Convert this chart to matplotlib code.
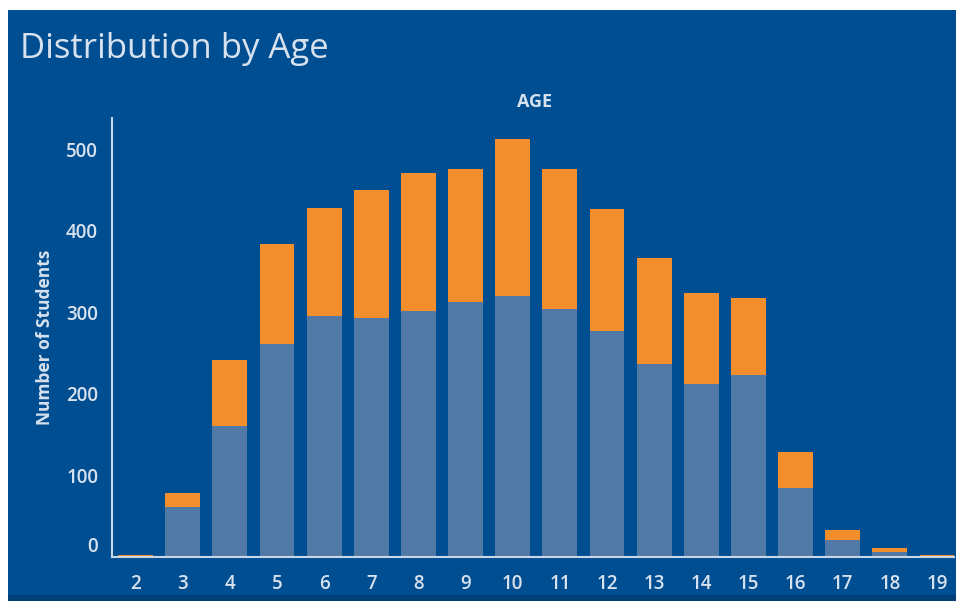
import matplotlib
matplotlib.use("Agg")
import matplotlib.pyplot as plt
import matplotlib.transforms as mtransforms
from matplotlib.patches import Rectangle

plt.rcParams['font.family'] = ['Open Sans', 'DejaVu Sans']

# data
ages = [2, 3, 4, 5, 6, 7, 8, 9, 10, 11, 12, 13, 14, 15, 16, 17, 18, 19]
blue_part = [0, 61, 160, 261, 295, 293, 301, 313, 320, 304, 277, 237, 212, 223, 85, 21, 6, 0]
orange_part = [2, 18, 81, 123, 133, 157, 169, 163, 192, 172, 149, 130, 112, 94, 44, 12, 5, 2]
y_ticks = [0, 100, 200, 300, 400, 500]

bg = "#004e92"
bar_blue = "#5179a6"
bar_orange = "#f28e2b"
txt = "#d8e2ee"

W, H = 956, 601
fig = plt.figure(figsize=(W / 100, H / 100), dpi=100)
fig.patch.set_facecolor("white")
back = Rectangle((8 / W, 0), 1 - 8 / W, 1 - 10 / H, transform=fig.transFigure,
                 facecolor=bg, edgecolor="none", zorder=-10)
fig.add_artist(back)
edge = Rectangle((8 / W, 0), 1 - 8 / W, 6 / H, transform=fig.transFigure,
                 facecolor="#003f78", edgecolor="none", zorder=-9)
fig.add_artist(edge)

ax = fig.add_axes([112 / W, 1 - 557 / H, (954 - 112) / W, (557 - 118) / H])
ax.set_facecolor("none")
ax.bar(ages, blue_part, width=0.74, color=bar_blue, zorder=2)
ax.bar(ages, orange_part, width=0.74, bottom=blue_part, color=bar_orange, zorder=2)

ax.set_xlim(1.5, 19.36)
ax.set_ylim(0, 538)
ax.set_xticks(ages)
ax.set_yticks(y_ticks)
ax.tick_params(axis="both", length=0, colors=txt, labelsize=13.5)
ax.tick_params(axis="x", pad=12)
ax.tick_params(axis="y", pad=10)
for lbl in ax.get_xticklabels() + ax.get_yticklabels():
    lbl.set_fontweight("semibold")
for s in ["top", "right"]:
    ax.spines[s].set_visible(False)
for s in ["left", "bottom"]:
    ax.spines[s].set_color("#c9d6e6")
    ax.spines[s].set_linewidth(1.5)

# the 0 label sits a bit above the baseline in the original
lbl0 = ax.get_yticklabels()[0]
lbl0.set_transform(lbl0.get_transform() + mtransforms.ScaledTranslation(0, 12 / 100, fig.dpi_scale_trans))

ax.set_ylabel("Number of Students", color=txt, fontsize=12.5, fontweight="bold", labelpad=9)

fig.text(20 / W, 1 - 49 / H, "Distribution by Age", color=txt, fontsize=25, va="center", ha="left")
fig.text(535 / W, 1 - 102 / H, "AGE", color=txt, fontsize=13, fontweight="bold", va="center", ha="center")

fig.savefig("out.png", dpi=100, facecolor=fig.get_facecolor())
